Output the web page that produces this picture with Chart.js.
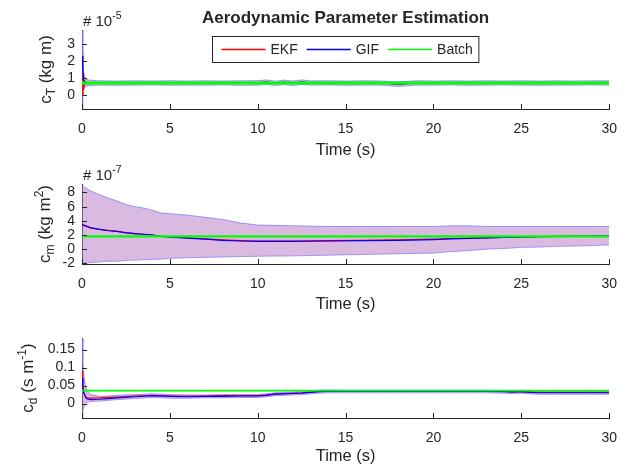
<!DOCTYPE html>
<html>
<head>
<meta charset="utf-8">
<script src="https://cdn.jsdelivr.net/npm/chart.js@4.4.1/dist/chart.umd.min.js"></script>
<style>
  html, body { margin:0; padding:0; background:#fff; }
  #wrap { position:relative; width:629px; height:468px; }
  canvas { position:absolute; left:0; }
</style>
</head>
<body>
<div id="wrap">
  <canvas id="c1" width="629" height="160" style="top:0px"></canvas>
  <canvas id="c2" width="629" height="155" style="top:160px"></canvas>
  <canvas id="c3" width="629" height="153" style="top:315px"></canvas>
</div>
<script>
// ==== data (values in units of the axis exponent) ====
const TITLE = 'Aerodynamic Parameter Estimation';
const XLABEL = 'Time (s)';
const X_TICKS = [0, 5, 10, 15, 20, 25, 30];

// c_T  (x1e-5)
const T1     = [0, 0.05, 0.1, 0.2, 0.4, 1, 2, 3, 4, 5, 6, 7, 8, 9, 10, 10.5, 11, 11.5, 12, 12.5, 13, 14, 15, 16, 17, 18, 19, 20, 21, 22, 23, 24, 25, 26, 27, 28, 29, 30];
const EKF1   = [0.0, 1.3, 0.45, 0.8, 0.7, 0.73, 0.71, 0.72, 0.73, 0.71, 0.72, 0.72, 0.73, 0.71, 0.72, 0.76, 0.70, 0.75, 0.71, 0.76, 0.72, 0.73, 0.71, 0.72, 0.72, 0.66, 0.72, 0.72, 0.73, 0.71, 0.72, 0.73, 0.72, 0.71, 0.72, 0.72, 0.73, 0.72];
const GIF1   = [2.3, 1.5, 0.9, 0.75, 0.72, 0.72, 0.71, 0.72, 0.72, 0.71, 0.72, 0.72, 0.72, 0.71, 0.73, 0.77, 0.70, 0.76, 0.70, 0.77, 0.72, 0.72, 0.71, 0.72, 0.72, 0.63, 0.72, 0.72, 0.72, 0.71, 0.72, 0.72, 0.72, 0.71, 0.72, 0.72, 0.72, 0.72];
const HI1    = [3.8, 2.0, 1.3, 0.95, 0.88, 0.84, 0.83, 0.84, 0.83, 0.84, 0.83, 0.84, 0.83, 0.84, 0.85, 0.89, 0.82, 0.88, 0.83, 0.89, 0.84, 0.84, 0.83, 0.84, 0.83, 0.78, 0.84, 0.83, 0.84, 0.83, 0.84, 0.83, 0.84, 0.83, 0.84, 0.83, 0.84, 0.84];
const LO1    = [-0.8, -0.2, 0.3, 0.5, 0.56, 0.59, 0.58, 0.59, 0.60, 0.58, 0.59, 0.59, 0.60, 0.58, 0.59, 0.63, 0.57, 0.62, 0.57, 0.63, 0.59, 0.60, 0.58, 0.59, 0.59, 0.51, 0.59, 0.59, 0.60, 0.58, 0.59, 0.60, 0.59, 0.58, 0.59, 0.59, 0.60, 0.59];
const BATCH1 = T1.map(() => 0.72);
const Y_TICKS1 = [0, 1, 2, 3];

// c_m  (x1e-7)
const T2     = [0, 0.5, 1, 1.5, 2, 2.5, 3, 3.5, 4, 4.5, 5, 6, 7, 8, 9, 10, 12, 14, 16, 18, 20, 21, 22, 23, 24, 25, 26, 27, 28, 29, 30];
const HI2    = [9.0, 8.2, 7.7, 7.2, 6.8, 6.3, 6.0, 5.8, 5.5, 5.1, 5.0, 4.8, 4.5, 4.2, 3.7, 3.4, 3.3, 3.2, 3.2, 3.2, 3.2, 3.3, 3.3, 3.2, 3.2, 3.2, 3.2, 3.2, 3.2, 3.2, 3.2];
const LO2    = [-2.0, -1.9, -1.8, -1.7, -1.7, -1.6, -1.55, -1.5, -1.45, -1.4, -1.3, -1.2, -1.15, -1.1, -1.05, -1.0, -0.95, -0.85, -0.75, -0.65, -0.55, -0.35, -0.2, 0.0, 0.1, 0.25, 0.3, 0.4, 0.45, 0.5, 0.6];
const EKF2   = [3.4, 3.0, 2.8, 2.65, 2.5, 2.35, 2.2, 2.1, 2.0, 1.85, 1.75, 1.6, 1.45, 1.3, 1.2, 1.15, 1.15, 1.2, 1.25, 1.3, 1.4, 1.5, 1.55, 1.6, 1.65, 1.7, 1.75, 1.8, 1.85, 1.85, 1.9];
const GIF2   = [3.5, 3.0, 2.8, 2.6, 2.5, 2.3, 2.2, 2.1, 2.0, 1.8, 1.7, 1.55, 1.4, 1.25, 1.15, 1.1, 1.1, 1.15, 1.2, 1.25, 1.35, 1.45, 1.5, 1.6, 1.65, 1.7, 1.75, 1.8, 1.85, 1.85, 1.9];
const BATCH2 = T2.map(() => 1.8);
const Y_TICKS2 = [-2, 0, 2, 4, 6, 8];

// c_d
const T3     = [0, 0.05, 0.1, 0.2, 0.3, 0.5, 1, 1.5, 2, 3, 4, 5, 6, 7, 8, 9, 10, 10.5, 11, 11.5, 12, 12.5, 13, 13.5, 14, 15, 16, 17, 18, 19, 20, 21, 22, 23, 24, 24.5, 25, 25.5, 26, 27, 28, 29, 30];
const GIF3   = [0.07, 0.045, 0.03, 0.018, 0.013, 0.011, 0.012, 0.014, 0.016, 0.019, 0.022, 0.020, 0.019, 0.020, 0.020, 0.021, 0.021, 0.023, 0.026, 0.027, 0.028, 0.029, 0.031, 0.033, 0.034, 0.034, 0.034, 0.034, 0.034, 0.034, 0.034, 0.034, 0.034, 0.034, 0.033, 0.032, 0.033, 0.031, 0.030, 0.030, 0.030, 0.030, 0.030];
const EKF3   = [0.09, 0.05, 0.03, 0.02, 0.016, 0.015, 0.016, 0.017, 0.018, 0.021, 0.023, 0.021, 0.021, 0.021, 0.022, 0.022, 0.022, 0.024, 0.027, 0.028, 0.029, 0.030, 0.032, 0.034, 0.035, 0.035, 0.035, 0.034, 0.034, 0.034, 0.034, 0.034, 0.034, 0.034, 0.034, 0.033, 0.033, 0.032, 0.031, 0.031, 0.031, 0.031, 0.031];
const HI3    = [0.18, 0.12, 0.08, 0.05, 0.035, 0.025, 0.02, 0.021, 0.023, 0.025, 0.027, 0.025, 0.024, 0.024, 0.025, 0.025, 0.025, 0.027, 0.030, 0.031, 0.032, 0.033, 0.035, 0.037, 0.038, 0.037, 0.037, 0.037, 0.037, 0.037, 0.037, 0.037, 0.037, 0.037, 0.036, 0.035, 0.036, 0.034, 0.033, 0.033, 0.033, 0.033, 0.033];
const LO3    = [-0.04, -0.02, -0.01, 0.0, 0.004, 0.006, 0.007, 0.009, 0.011, 0.014, 0.017, 0.015, 0.015, 0.016, 0.016, 0.017, 0.017, 0.019, 0.022, 0.023, 0.024, 0.025, 0.027, 0.029, 0.030, 0.030, 0.030, 0.030, 0.030, 0.030, 0.030, 0.030, 0.030, 0.030, 0.029, 0.028, 0.029, 0.027, 0.026, 0.026, 0.026, 0.026, 0.026];
const BATCH3 = T3.map(() => 0.036);
const Y_TICKS3 = [0, 0.05, 0.1, 0.15];

/* ===== styles ===== */
const FONT = '"Liberation Sans", Arial, Helvetica, sans-serif';
const AX   = '#262626';
const RED  = '#ff0000';
const BLUE = '#0000ff';
const GREEN= '#00ff00';
const BAND = 'rgba(190,130,200,0.55)';
const EDGE = 'rgba(120,120,255,0.75)';
const TICK_FONT = {family:FONT, size:14};

// rich text: parts = [[text, size, dy]]
function richWidth(ctx, parts){
  let w = 0;
  parts.forEach(p => { ctx.font = `${p[1]}px ${FONT}`; w += ctx.measureText(p[0]).width; });
  return w;
}
function drawRich(ctx, parts, x, y){
  parts.forEach(p => {
    ctx.font = `${p[1]}px ${FONT}`;
    ctx.fillText(p[0], x, y + (p[2]||0));
    x += ctx.measureText(p[0]).width;
  });
}

const decor = {
  id:'decor',
  afterDraw(c, args, o){
    const {ctx, chartArea:a, scales:{x, y}} = c;
    ctx.save();
    // 内向きの目盛り
    ctx.strokeStyle = AX; ctx.lineWidth = 1; ctx.beginPath();
    x.ticks.forEach(t => { const px = Math.round(x.getPixelForValue(t.value)) + 0.5; ctx.moveTo(px, a.bottom); ctx.lineTo(px, a.bottom - 5); });
    y.ticks.forEach(t => { const py = Math.round(y.getPixelForValue(t.value)) + 0.5; ctx.moveTo(a.left, py); ctx.lineTo(a.left + 5, py); });
    ctx.stroke();

    ctx.fillStyle = AX;
    ctx.textBaseline = 'alphabetic';
    ctx.textAlign = 'left';
    // y label (rotated)
    const w = richWidth(ctx, o.ylabel);
    ctx.save();
    ctx.translate(o.ylabelX, (a.top + a.bottom) / 2);
    ctx.rotate(-Math.PI / 2);
    drawRich(ctx, o.ylabel, -w / 2, 0);
    ctx.restore();

    // exponent
    if (o.exp) drawRich(ctx, [['# 10', 15, 0], [o.exp, 10.5, -7]], a.left + 1, a.top - 4);

    // title + legend on first panel
    if (o.title){
      ctx.font = `bold 17px ${FONT}`;
      ctx.textAlign = 'center';
      ctx.fillText(o.title, (a.left + a.right) / 2, 23);
      ctx.textAlign = 'left';
      const items = c.data.datasets.filter(d => d.legend).slice().reverse();
      ctx.font = `14px ${FONT}`;
      const LINE = 44, G1 = 5, G2 = 9, PL = 9, PR = 6;
      let bw = PL + PR;
      items.forEach((d, i) => { bw += LINE + G1 + ctx.measureText(d.label).width + (i < items.length - 1 ? G2 : 0); });
      const bx = Math.round((a.left + a.right) / 2 - bw / 2) + 0.5, by = 36.5, bh = 26;
      ctx.fillStyle = '#fff';
      ctx.fillRect(bx, by, bw, bh);
      ctx.strokeStyle = AX; ctx.lineWidth = 1;
      ctx.strokeRect(bx, by, bw, bh);
      let cx = bx + PL;
      const cy = by + bh / 2;
      items.forEach(d => {
        ctx.strokeStyle = d.borderColor; ctx.lineWidth = 1.3;
        ctx.beginPath(); ctx.moveTo(cx, cy); ctx.lineTo(cx + LINE, cy); ctx.stroke();
        cx += LINE + G1;
        ctx.fillStyle = AX; ctx.textBaseline = 'middle';
        ctx.fillText(d.label, cx, cy + 1);
        cx += ctx.measureText(d.label).width + G2;
      });
    }
    ctx.restore();
  }
};

function makePanel(id, p){
  const pts = ys => p.t.map((t, i) => ({x:t, y:ys[i]}));
  const line = (label, ys, color, bw, order, extra) => Object.assign({
    label, data:pts(ys), borderColor:color, borderWidth:bw, order,
    pointRadius:0, tension:0, fill:false
  }, extra || {});
  return new Chart(document.getElementById(id), {
    type:'line',
    data:{ datasets:[
      line('Batch', p.batch, GREEN, p.gw, 0, {legend:true}),
      line('GIF',   p.gif,   BLUE, 1.2, 1, {legend:true}),
      line('EKF',   p.ekf,   RED,  1.2, 2, {legend:true}),
      line('hi',    p.hi,    EDGE, 1, 3, {fill:'+1', backgroundColor:BAND}),
      line('lo',    p.lo,    EDGE, 1, 4)
    ]},
    options:{
      responsive:false,
      animation:false,
      devicePixelRatio:1,
      layout:{ padding:{ top:p.top, right:16, left:0, bottom:0 } },
      plugins:{ legend:{display:false}, tooltip:{enabled:false}, decor:p.decor },
      scales:{
        x:{ type:'linear', min:0, max:30,
            grid:{display:false, drawTicks:false}, border:{display:true, color:AX, width:1},
            afterBuildTicks: s => { s.ticks = X_TICKS.map(v => ({value:v})); },
            ticks:{ color:AX, font:TICK_FONT, padding:12, maxRotation:0, autoSkip:false },
            title:{ display:true, text:XLABEL, color:AX, font:{family:FONT, size:16.5}, padding:{top:0, bottom:p.xtPad} },
            afterFit: s => { s.height = p.xh; } },
        y:{ min:p.ymin, max:p.ymax,
            grid:{display:false, drawTicks:false}, border:{display:true, color:AX, width:1},
            afterBuildTicks: s => { s.ticks = p.yticks.map(v => ({value:v})); },
            ticks:{ color:AX, font:TICK_FONT, padding:7, autoSkip:false, callback: v => String(v) },
            afterFit: s => { s.width = 82; } }
      }
    },
    plugins:[decor]
  });
}

makePanel('c1', { t:T1, ekf:EKF1, gif:GIF1, batch:BATCH1, hi:HI1, lo:LO1, gw:3,
  ymin:-0.8, ymax:3.8, yticks:Y_TICKS1, top:30, xh:51, xtPad:0,
  decor:{ title:TITLE, exp:'-5', ylabelX:51, ylabel:[['c',17,0],['T',12,4],[' (kg m)',17,0]] } });
makePanel('c2', { t:T2, ekf:EKF2, gif:GIF2, batch:BATCH2, hi:HI2, lo:LO2, gw:2.2,
  ymin:-2.1, ymax:9.2, yticks:Y_TICKS2, top:24, xh:51, xtPad:1,
  decor:{ exp:'-7', ylabelX:50, ylabel:[['c',17,0],['m',12,4],[' (kg m',17,0],['2',12,-7],[')',17,0]] } });
makePanel('c3', { t:T3, ekf:EKF3, gif:GIF3, batch:BATCH3, hi:HI3, lo:LO3, gw:1.6,
  ymin:-0.04, ymax:0.182, yticks:Y_TICKS3, top:23, xh:50, xtPad:2,
  decor:{ ylabelX:33, ylabel:[['c',17,0],['d',12,4],[' (s m',17,0],['-1',12,-7],[')',17,0]] } });
</script>
</body>
</html>
